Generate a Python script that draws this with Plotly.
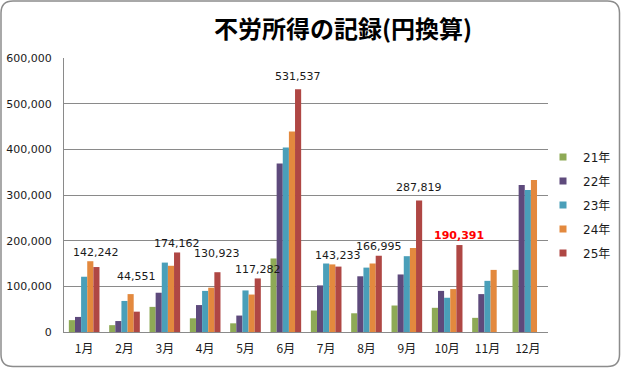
import plotly.graph_objects as go

months = ["1月", "2月", "3月", "4月", "5月", "6月", "7月", "8月", "9月", "10月", "11月", "12月"]
series_names = ["21年", "22年", "23年", "24年", "25年"]
y21 = [26000, 15000, 55000, 30000, 19000, 161000, 47000, 41000, 58000, 53000, 31000, 136000]
y22 = [33000, 24000, 86000, 59000, 36000, 369000, 102000, 122000, 126000, 90000, 83000, 322000]
y23 = [121000, 68000, 152000, 90000, 91000, 404000, 150000, 141000, 166000, 75000, 112000, 311000]
y24 = [155000, 83000, 145000, 97000, 82000, 439000, 148000, 150000, 184000, 94000, 136000, 333000]
y25 = [142242, 44551, 174162, 130923, 117282, 531537, 143233, 166995, 287819, 190391, None, None]
y_ticks = [0, 100000, 200000, 300000, 400000, 500000, 600000]

colors = ["#8EAA56", "#5E4A7C", "#4A9FB9", "#E3893E", "#AF4744"]
label_lift = [15, 35, 9, 19, 9, 13, 11, 9, 13, 10]  # px from bar top to label centre

# plot area in pixels
W, H = 621, 368
L, R, T, B = 64, 73, 58, 36
pw, ph = W - L - R, H - T - B

fig = go.Figure()
for name, vals, col in zip(series_names, [y21, y22, y23, y24, y25], colors):
    fig.add_trace(go.Bar(
        x=months, y=vals, name=name, marker=dict(color=col, line=dict(width=0)),
        showlegend=False, hoverinfo="x+y+name",
    ))
# legend entries (small square swatches)
for name, col in zip(series_names, colors):
    fig.add_trace(go.Scatter(
        x=[None], y=[None], mode="markers", name=name, legendgroup=name,
        marker=dict(symbol="square", size=7, color=col), showlegend=True,
    ))

cat_w = pw / len(months)
bargap = 0.24
bar_w = cat_w * (1 - bargap) / 5
for i, v in enumerate(y25):
    if v is None:
        continue
    red = (i == 9)
    fig.add_annotation(
        x=months[i], y=v, xref="x", yref="y", text=f"{v:,}", showarrow=False,
        xshift=2 * bar_w, yshift=label_lift[i], yanchor="middle",
        font=dict(family="DejaVu Sans", size=11, color="#FF0000" if red else "#1a1a1a",
                  weight="bold" if red else "normal"),
    )

def P(px, py):
    a, b = (px - L) / pw, (H - B - py) / ph
    return f"{a:.5f},{b:.5f}"

# rounded chart border
x0, y0, x1, y1, r = 1, 1, 619.5, 366.5, 12
path = (f"M {P(x0 + r, y0)} L {P(x1 - r, y0)} Q {P(x1, y0)} {P(x1, y0 + r)} "
        f"L {P(x1, y1 - r)} Q {P(x1, y1)} {P(x1 - r, y1)} "
        f"L {P(x0 + r, y1)} Q {P(x0, y1)} {P(x0, y1 - r)} "
        f"L {P(x0, y0 + r)} Q {P(x0, y0)} {P(x0 + r, y0)} Z")
fig.add_shape(type="path", path=path, xref="paper", yref="paper",
              line=dict(color="#8c8c8c", width=1.5), layer="above")

grid = "#8a8a8a"
fig.update_layout(
    width=W, height=H,
    margin=dict(l=L, r=R, t=T, b=B, autoexpand=False),
    paper_bgcolor="white", plot_bgcolor="white",
    barmode="group", bargap=bargap, bargroupgap=0,
    title=dict(text="<b>不労所得の記録(円換算)</b>", xref="container", yref="container",
               x=343 / W, y=1 - 30 / H, xanchor="center", yanchor="middle",
               font=dict(family="Noto Sans CJK JP", size=24, color="#000000")),
    showlegend=True,
    legend=dict(xref="container", yref="container", x=543 / W, y=1 - 205 / H,
                xanchor="left", yanchor="middle",
                font=dict(family="DejaVu Sans, Noto Sans CJK JP", size=12, color="#1a1a1a"),
                tracegroupgap=5, itemwidth=30, bgcolor="rgba(0,0,0,0)"),
    xaxis=dict(showline=True, linecolor=grid, linewidth=1, ticks="", showgrid=False,
               ticklabelstandoff=6,
               tickfont=dict(family="Noto Sans CJK JP", size=12, color="#1a1a1a")),
    yaxis=dict(range=[0, 600000], tickvals=y_ticks, tickformat=",d", showline=True,
               linecolor=grid, linewidth=1, gridcolor=grid, gridwidth=1, zeroline=False,
               ticks="", ticklabelstandoff=9,
               tickfont=dict(family="DejaVu Sans", size=11, color="#1a1a1a")),
    font=dict(family="DejaVu Sans, Noto Sans CJK JP"),
)

fig.write_html("out.html", config={"displayModeBar": False},
               post_script="document.body.style.margin='0';")
